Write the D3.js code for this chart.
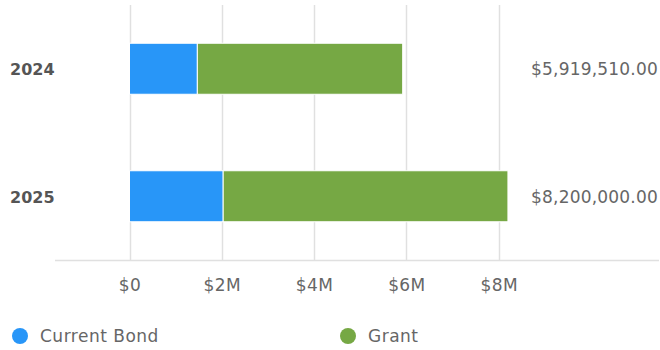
<!DOCTYPE html>
<html><head><meta charset="utf-8">
<script src="https://cdn.jsdelivr.net/npm/d3@7"></script>
<style>body{margin:0;background:#fff}svg{display:block;font-family:"DejaVu Sans",sans-serif}</style>
</head><body><svg id="c" width="660" height="350"></svg>
<script>
const years = ["2024", "2025"];
const currentBond = [1470000, 2030000];
const grant = [4449510, 6170000];
const totals = ["$5,919,510.00", "$8,200,000.00"];
const seriesNames = ["Current Bond", "Grant"];
const colors = ["#2896f8", "#76a844"];
const tickValues = [0, 2000000, 4000000, 6000000, 8000000];

const svg = d3.select("#c");
const x = d3.scaleLinear().domain([0, 8000000]).range([129.5, 498.7]);
const y = d3.scaleBand().domain(years).range([5, 260]).paddingInner(0.6).paddingOuter(0.3);

// gridlines
svg.append("g").selectAll("line").data(tickValues).join("line")
  .attr("x1", d => Math.round(x(d)) + 0.5).attr("x2", d => Math.round(x(d)) + 0.5)
  .attr("y1", 5).attr("y2", 260).attr("stroke", "#e0e0e0").attr("stroke-width", 1.5);

// axis line
svg.append("line").attr("x1", 55).attr("x2", 659).attr("y1", 260.5).attr("y2", 260.5)
  .attr("stroke", "#e0e0e0").attr("stroke-width", 1.5);

// x axis labels
const xa = d3.axisBottom(x).tickValues(tickValues).tickSize(0).tickPadding(0)
  .tickFormat(d => d === 0 ? "$0" : "$" + d / 1e6 + "M");
const ax = svg.append("g").attr("transform", "translate(0,278)").call(xa);
ax.select(".domain").remove();
ax.selectAll("text").attr("font-size", 17).attr("fill", "#666").attr("font-family", "DejaVu Sans,sans-serif")
  .attr("letter-spacing", 0.4).attr("dy", "0.75em");

const stack = d3.stack().keys([0, 1])(years.map((yr, i) => ({0: currentBond[i], 1: grant[i], year: yr})));
svg.append("g").selectAll("g").data(stack).join("g").attr("fill", (d, i) => colors[i])
  .selectAll("rect").data(d => d).join("rect")
  .attr("x", d => x(d[0])).attr("width", d => x(d[1]) - x(d[0]))
  .attr("y", d => y(d.data.year)).attr("height", y.bandwidth())
  .attr("stroke", "#fff").attr("stroke-width", 1);

// year labels
svg.append("g").selectAll("text").data(years).join("text")
  .attr("x", 10).attr("y", d => y(d) + y.bandwidth() / 2).attr("dy", "0.4em")
  .attr("font-size", 16).attr("font-weight", 700).attr("fill", "#555").text(d => d);

// totals
svg.append("g").selectAll("text").data(totals).join("text")
  .attr("x", 658).attr("y", (d, i) => y(years[i]) + y.bandwidth() / 2).attr("dy", "0.38em")
  .attr("text-anchor", "end").attr("font-size", 17).attr("letter-spacing", 0.2).attr("fill", "#666").text(d => d);

// legend
const lg = svg.append("g").selectAll("g").data(seriesNames).join("g")
  .attr("transform", (d, i) => `translate(${[20, 348][i]},336)`);
lg.append("circle").attr("r", 8).attr("fill", (d, i) => colors[i]);
lg.append("text").attr("x", 20).attr("dy", "0.37em").attr("font-size", 17).attr("letter-spacing", 0.5)
  .attr("fill", "#666").text(d => d);
</script></body></html>
